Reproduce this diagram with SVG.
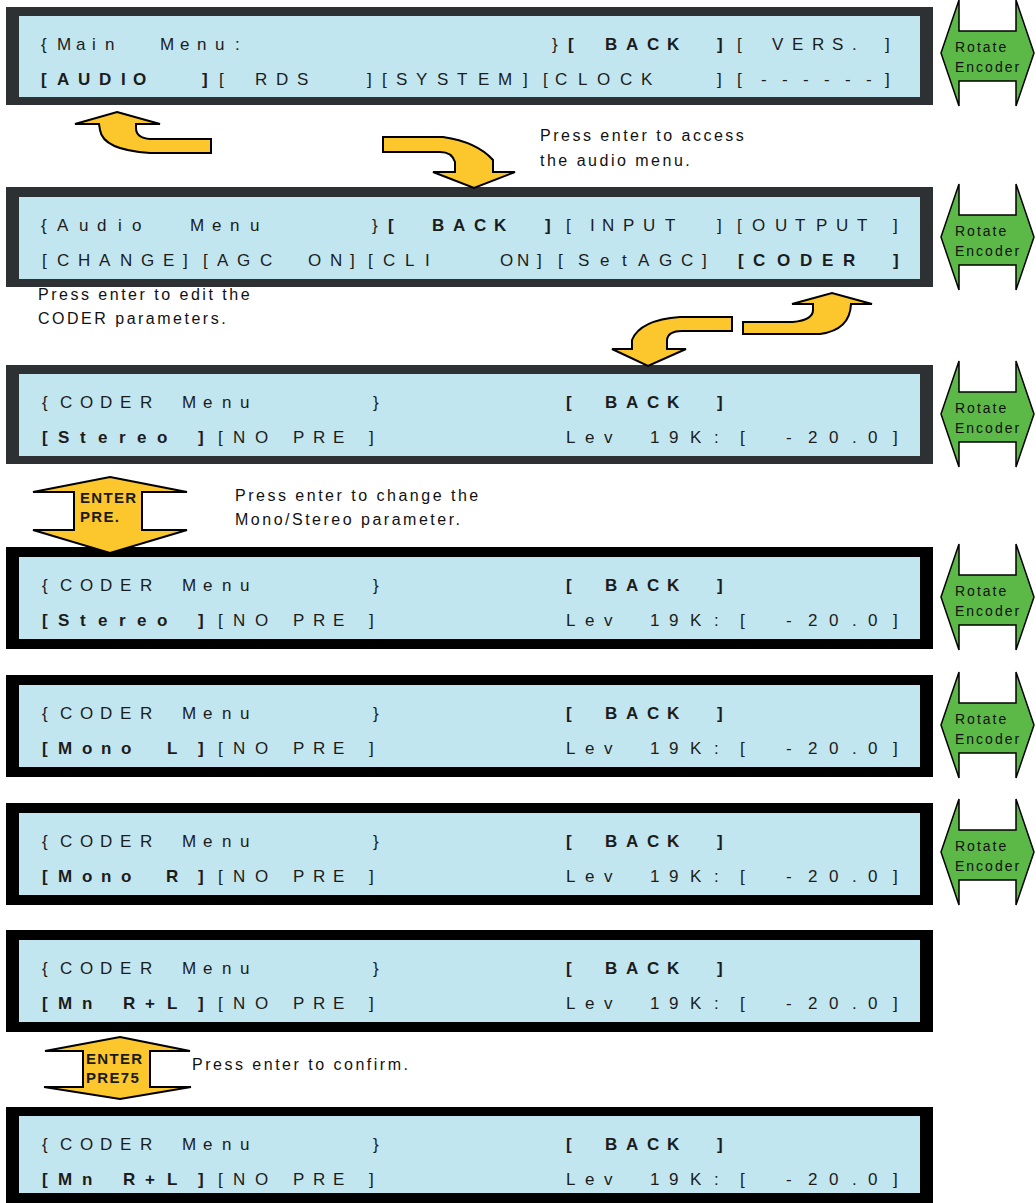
<svg xmlns="http://www.w3.org/2000/svg" width="1036" height="1203" viewBox="0 0 1036 1203">
<style>
.fd{fill:#2d3134}
.fb{fill:#000}
.scr{fill:#c2e6ef}
.lcd{font-family:"Liberation Sans",Arial,sans-serif;font-size:17px;fill:#1c1c1c}
.b{font-weight:bold}
.note{font-family:"Liberation Sans",Arial,sans-serif;font-size:16px;letter-spacing:2.5px;fill:#111}
.enc{fill:#5cb947;stroke:#000;stroke-width:1.5;stroke-linejoin:miter}
.enct{font-family:"Liberation Sans",Arial,sans-serif;font-size:14px;letter-spacing:2px;fill:#111}
.ya{fill:#fcc72c;stroke:#000;stroke-width:2;stroke-linejoin:miter}
.ent{font-family:"Liberation Sans",Arial,sans-serif;font-size:15px;font-weight:bold;letter-spacing:1.3px;fill:#1a1a1a}
</style>
<defs>
<path id="encShape" d="M 941,0 L 959,-53 L 959,-22 L 1016,-22 L 1016,-53 L 1034,0 L 1016,53 L 1016,28 L 959,28 L 959,53 Z"/>
</defs>

<g id="panel-main">
<rect class="fd" x="6" y="7" width="927" height="98"/>
<rect class="scr" x="19" y="16" width="901" height="81"/>
<text class="lcd" y="50"><tspan x="41 57 76 92 105 115 160 180 197 215 235">{Main Menu:</tspan><tspan x="552">}</tspan><tspan class="b" x="568 580 605 626 647 667 690 717">[ BACK ]</tspan><tspan x="737 750 772 792 812 832 852 885">[ VERS.]</tspan></text>
<text class="lcd" y="85"><tspan class="b" x="41 57 78 99 121 133 160 202">[AUDIO ]</tspan><tspan x="219 235 255 276 297 320 367 382 396 416 437 457 478 498 523 543 555 578 597 620 641 680 717 737 761 782 803 824 845 866 885">[ RDS ][SYSTEM][CLOCK ][------]</tspan></text>
</g>

<g id="panel-audio">
<rect class="fd" x="6" y="187" width="927" height="100"/>
<rect class="scr" x="19" y="197" width="901" height="82"/>
<text class="lcd" y="231"><tspan x="41 57 79 97 118 132 150 190 212 230 250 372">{Audio Menu}</tspan><tspan class="b" x="388 400 432 453 474 494 520 545">[ BACK ]</tspan><tspan x="566 590 602 623 643 665 690 717 737 752 775 795 816 836 857 893">[INPUT ][OUTPUT]</tspan></text>
<text class="lcd" y="266"><tspan x="42 57 78 99 120 141 163 183 203 217 237 260 285 308 330 350 368 383 405 425 460 500 517 537 558 578 600 622 638 659 681 702">[CHANGE][AGC ON][CLI ON][SetAGC]</tspan><tspan class="b" x="738 753 777 800 822 843 870 893">[CODER ]</tspan></text>
</g>

<g id="panel-coder-1">
<rect class="fd" x="6" y="365" width="927" height="99"/>
<rect class="scr" x="19" y="374" width="901" height="82"/>
<text class="lcd" y="408"><tspan x="42 60 80 100 120 140 160 182 203 222 240 373">{CODER Menu}</tspan><tspan class="b" x="566 580 605 626 647 667 690 717">[ BACK ]</tspan></text>
<text class="lcd" y="443"><tspan class="b" x="42 58 80 98 119 137 157 198">[Stereo]</tspan><tspan x="218 233 255 275 293 313 333 369">[NO PRE]</tspan><tspan x="566 585 604 625 650 669 690 714 740 760 786 808 829 852 868 893">Lev 19K:[ -20.0]</tspan></text>
</g>

<g id="panel-coder-2">
<rect class="fb" x="6" y="547" width="927" height="102"/>
<rect class="scr" x="19" y="557" width="901" height="82"/>
<text class="lcd" y="591"><tspan x="42 60 80 100 120 140 160 182 203 222 240 373">{CODER Menu}</tspan><tspan class="b" x="566 580 605 626 647 667 690 717">[ BACK ]</tspan></text>
<text class="lcd" y="626"><tspan class="b" x="42 58 80 98 119 137 157 198">[Stereo]</tspan><tspan x="218 233 255 275 293 313 333 369">[NO PRE]</tspan><tspan x="566 585 604 625 650 669 690 714 740 760 786 808 829 852 868 893">Lev 19K:[ -20.0]</tspan></text>
</g>

<g id="panel-coder-3">
<rect class="fb" x="6" y="675" width="927" height="102"/>
<rect class="scr" x="19" y="685" width="901" height="82"/>
<text class="lcd" y="719"><tspan x="42 60 80 100 120 140 160 182 203 222 240 373">{CODER Menu}</tspan><tspan class="b" x="566 580 605 626 647 667 690 717">[ BACK ]</tspan></text>
<text class="lcd" y="754"><tspan class="b" x="42 58 82 101 121 140 167 198">[Mono L]</tspan><tspan x="218 233 255 275 293 313 333 369">[NO PRE]</tspan><tspan x="566 585 604 625 650 669 690 714 740 760 786 808 829 852 868 893">Lev 19K:[ -20.0]</tspan></text>
</g>

<g id="panel-coder-4">
<rect class="fb" x="6" y="803" width="927" height="102"/>
<rect class="scr" x="19" y="813" width="901" height="82"/>
<text class="lcd" y="847"><tspan x="42 60 80 100 120 140 160 182 203 222 240 373">{CODER Menu}</tspan><tspan class="b" x="566 580 605 626 647 667 690 717">[ BACK ]</tspan></text>
<text class="lcd" y="882"><tspan class="b" x="42 58 82 101 121 140 166 198">[Mono R]</tspan><tspan x="218 233 255 275 293 313 333 369">[NO PRE]</tspan><tspan x="566 585 604 625 650 669 690 714 740 760 786 808 829 852 868 893">Lev 19K:[ -20.0]</tspan></text>
</g>

<g id="panel-coder-5">
<rect class="fb" x="6" y="930" width="927" height="102"/>
<rect class="scr" x="19" y="940" width="901" height="82"/>
<text class="lcd" y="974"><tspan x="42 60 80 100 120 140 160 182 203 222 240 373">{CODER Menu}</tspan><tspan class="b" x="566 580 605 626 647 667 690 717">[ BACK ]</tspan></text>
<text class="lcd" y="1009"><tspan class="b" x="42 58 82 100 123 145 167 198">[Mn R+L]</tspan><tspan x="218 233 255 275 293 313 333 369">[NO PRE]</tspan><tspan x="566 585 604 625 650 669 690 714 740 760 786 808 829 852 868 893">Lev 19K:[ -20.0]</tspan></text>
</g>

<g id="panel-coder-6">
<rect class="fb" x="6" y="1107" width="927" height="96"/>
<rect class="scr" x="19" y="1116" width="901" height="77"/>
<text class="lcd" y="1150"><tspan x="42 60 80 100 120 140 160 182 203 222 240 373">{CODER Menu}</tspan><tspan class="b" x="566 580 605 626 647 667 690 717">[ BACK ]</tspan></text>
<text class="lcd" y="1185"><tspan class="b" x="42 58 82 100 123 145 167 198">[Mn R+L]</tspan><tspan x="218 233 255 275 293 313 333 369">[NO PRE]</tspan><tspan x="566 585 604 625 650 669 690 714 740 760 786 808 829 852 868 893">Lev 19K:[ -20.0]</tspan></text>
</g>

<g id="encoder-1"><use href="#encShape" class="enc" transform="translate(0,53)"/><text class="enct" x="955" y="52">Rotate</text><text class="enct" x="955" y="72">Encoder</text></g>
<g id="encoder-2"><use href="#encShape" class="enc" transform="translate(0,237)"/><text class="enct" x="955" y="236">Rotate</text><text class="enct" x="955" y="256">Encoder</text></g>
<g id="encoder-3"><use href="#encShape" class="enc" transform="translate(0,414)"/><text class="enct" x="955" y="413">Rotate</text><text class="enct" x="955" y="433">Encoder</text></g>
<g id="encoder-4"><use href="#encShape" class="enc" transform="translate(0,597)"/><text class="enct" x="955" y="596">Rotate</text><text class="enct" x="955" y="616">Encoder</text></g>
<g id="encoder-5"><use href="#encShape" class="enc" transform="translate(0,725)"/><text class="enct" x="955" y="724">Rotate</text><text class="enct" x="955" y="744">Encoder</text></g>
<g id="encoder-6"><use href="#encShape" class="enc" transform="translate(0,852)"/><text class="enct" x="955" y="851">Rotate</text><text class="enct" x="955" y="871">Encoder</text></g>

<g id="connectors">
<path class="ya" d="M 117,112 L 160,124 L 136,124 L 136,128 Q 136,138 150,139 L 211,139 L 211,153 L 150,153 Q 103,150 100,130 L 99,124 L 75,124 Z"/>
<path class="ya" d="M 383,137 L 443,137 Q 477,142 493,160 L 493,172 L 515,172 L 474,188 L 433,172 L 455,172 L 455,162 Q 452,152 440,152 L 383,152 Z"/>
<path class="ya" d="M 732,317 L 680,317 Q 640,320 632,340 L 632,349 L 612,349 L 648,366 L 686,349 L 667,349 L 667,340 Q 668,331 682,331 L 732,331 Z"/>
<path class="ya" d="M 743,322 L 793,322 Q 813,320 813,310 L 813,304 L 792,304 L 832,293 L 872,304 L 851,304 Q 850,330 820,334 L 743,334 Z"/>
</g>

<g id="enter-1">
<path class="ya" d="M 110,477 L 187,492 L 142,492 L 142,530 L 187,530 L 110,553 L 33,530 L 74,530 L 74,492 L 33,492 Z"/>
<text class="ent" x="80" y="503">ENTER</text>
<text class="ent" x="80" y="522">PRE.</text>
</g>
<g id="enter-2">
<path class="ya" d="M 120,1037 L 190,1051 L 150,1051 L 150,1087 L 191,1087 L 120,1099 L 44,1087 L 83,1087 L 83,1051 L 45,1051 Z"/>
<text class="ent" x="86" y="1064">ENTER</text>
<text class="ent" x="86" y="1083">PRE75</text>
</g>

<g id="notes">
<text class="note" x="540" y="141">Press enter to access</text>
<text class="note" x="540" y="166">the audio menu.</text>
<text class="note" x="38" y="300">Press enter to edit the</text>
<text class="note" x="38" y="324">CODER parameters.</text>
<text class="note" x="235" y="501">Press enter to change the</text>
<text class="note" x="235" y="525">Mono/Stereo parameter.</text>
<text class="note" x="192" y="1070">Press enter to confirm.</text>
</g>
</svg>
